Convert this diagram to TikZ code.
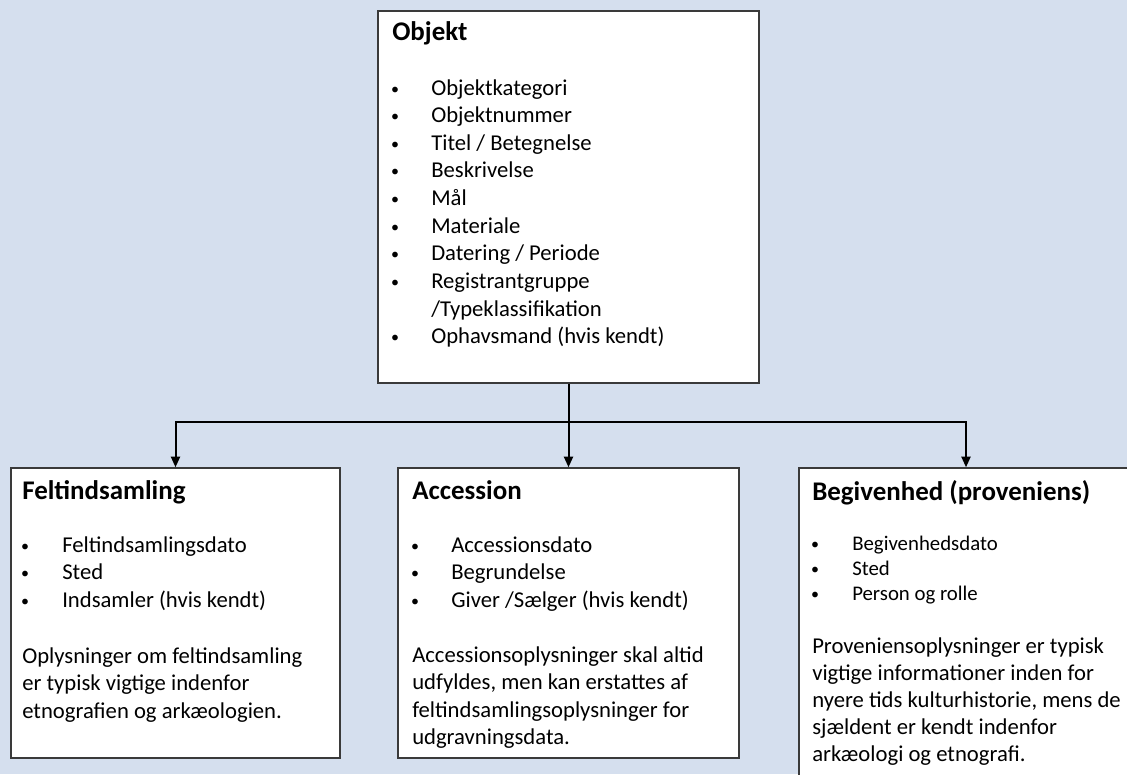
\documentclass[tikz,border=0pt]{standalone}
\usepackage{fontspec}
\setmainfont{Carlito}
\usetikzlibrary{arrows.meta,fit}
\definecolor{bgblue}{HTML}{D5DFEE}
\definecolor{edgegray}{HTML}{3A3A3A}

\begin{document}
\begin{tikzpicture}[x=0.75pt,y=-0.75pt]
        \tikzstyle{card}=[draw=edgegray,fill=white,line width=1.1pt,inner sep=0pt]
        \tikzstyle{head}=[anchor=base west,inner sep=0pt,
            font=\fontsize{20.2}{24}\selectfont\bfseries]
        \tikzstyle{item}=[anchor=base west,inner sep=0pt,
            font=\fontsize{17}{20}\selectfont]
        \tikzstyle{small item}=[item,font=\fontsize{15.6}{18}\selectfont]
        \tikzstyle{dot}=[anchor=base,inner sep=0pt,font=\fontsize{12}{14}\selectfont]
        \tikzstyle{line}=[draw=black,line width=1.5pt]
        \tikzstyle{link}=[line,-{Triangle[length=8pt,width=6.8pt]}]

        % Canvas
        \clip (0,0) rectangle (1127,774);
        \fill[bgblue] (0,0) rectangle (1127,774);

        % The four boxes
        \node[card,fit={(378,11) (759,383)}] (obj) {};
        \node[card,fit={(11,468) (340,758)}] (felt) {};
        \node[card,fit={(398,468) (739,758)}] (acc) {};
        \node[card,fit={(799,468) (1133,800)}] (begiv) {};

        % Objekt
        \node[head] (obj-head) at (392,41) {Objekt};
        \foreach \txt [count=\i] in {Objektkategori, Objektnummer,
            {Titel / Betegnelse}, Beskrivelse, Mål, Materiale,
            {Datering / Periode}, Registrantgruppe}
        {
            \node[dot] (obj-b\i) at (395,{67.4+27.6*\i-1}) {\textbullet};
            \node[item] (obj-\i) at (431,{67.4+27.6*\i}) {\txt};
        }
        \node[item] (obj-9) at (431,316) {/Typeklassifikation};
        \node[dot] (obj-b10) at (395,342.5) {\textbullet};
        \node[item] (obj-10) at (431,343.5) {Ophavsmand (hvis kendt)};

        % Feltindsamling
        \node[head] (felt-head) at (22,499) {Feltindsamling};
        \foreach \txt [count=\i] in {Feltindsamlingsdato, Sted,
            {Indsamler (hvis kendt)}}
        {
            \node[dot] (felt-b\i) at (25,{523.5+27.5*\i}) {\textbullet};
            \node[item] (felt-\i) at (62,{524.5+27.5*\i}) {\txt};
        }
        \foreach \txt [count=\i] in {Oplysninger om feltindsamling,
            er typisk vigtige indenfor, etnografien og arkæologien.}
            \node[item] (felt-note\i) at (22,{635.5+27.5*\i}) {\txt};

        % Accession
        \node[head] (acc-head) at (412,499) {Accession};
        \foreach \txt [count=\i] in {Accessionsdato, Begrundelse,
            {Giver /Sælger (hvis kendt)}}
        {
            \node[dot] (acc-b\i) at (415,{523.5+27.5*\i}) {\textbullet};
            \node[item] (acc-\i) at (451,{524.5+27.5*\i}) {\txt};
        }
        \foreach \txt [count=\i] in {Accessionsoplysninger skal altid,
            {udfyldes, men kan erstattes af},
            feltindsamlingsoplysninger for, udgravningsdata.}
            \node[item] (acc-note\i) at (412,{635.5+27.2*\i}) {\txt};

        % Begivenhed
        \node[head] (begiv-head) at (812,500) {Begivenhed (proveniens)};
        \foreach \txt [count=\i] in {Begivenhedsdato, Sted, Person og rolle}
        {
            \node[dot] (begiv-b\i) at (815,{524+25*\i}) {\textbullet};
            \node[small item] (begiv-\i) at (852,{525+25*\i}) {\txt};
        }
        \foreach \txt [count=\i] in {Proveniensoplysninger er typisk,
            vigtige informationer inden for,
            {nyere tids kulturhistorie, mens de},
            sjældent er kendt indenfor, arkæologi og etnografi.}
            \node[item] (begiv-note\i) at (812,{626+27*\i}) {\txt};

        % Connectors
        \path (obj.south) ++(0,38) coordinate (split);
        \draw[line] (obj.south) -- (split);
        \draw[link] (split) -| (felt.north);
        \draw[link] (split) -- (acc.north);
        \draw[link] (split) -| (begiv.north);
    \end{tikzpicture}
\end{document}
